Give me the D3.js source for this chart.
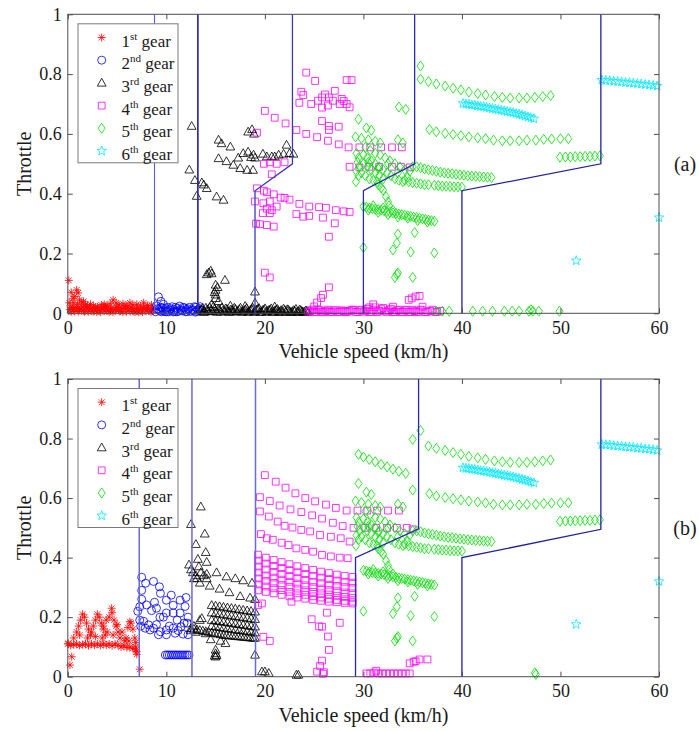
<!DOCTYPE html>
<html><head><meta charset="utf-8">
<script src="https://cdn.jsdelivr.net/npm/d3@7"></script>
<style>html,body{margin:0;padding:0;background:#fff;} svg{display:block;} svg text{font-family:"Liberation Serif","Times New Roman","DejaVu Serif",serif;}</style>
</head><body>
<svg id="chart" width="699" height="731"></svg>
<script>
// ---------- labels ----------
const xTicks = [0, 10, 20, 30, 40, 50, 60];
const yTicks = [0, 0.2, 0.4, 0.6, 0.8, 1];
const yTickLabels = ["0", "0.2", "0.4", "0.6", "0.8", "1"];
const gearOrdinals = ["1", "2", "3", "4", "5", "6"];
const gearSuffixes = ["st", "nd", "rd", "th", "th", "th"];
const panelLabels = ["(a)", "(b)"];
const xTitle = "Vehicle speed (km/h)";
const yTitle = "Throttle";

// ---------- shift boundaries (speed, throttle) ----------
const boundA = [
  [[8.8,0],[8.8,1]],
  [[13.2,0],[13.2,1]],
  [[19.0,0],[19.0,0.41],[22.8,0.5],[22.8,1]],
  [[30.0,0],[30.0,0.41],[35.2,0.5],[35.2,1]],
  [[40.0,0],[40.0,0.41],[54.1,0.5],[54.1,1]]
];
const boundB = [
  [[7.25,0],[7.25,1]],
  [[12.6,0],[12.6,1]],
  [[19.05,0],[19.05,1]],
  [[29.2,0],[29.2,0.4],[35.6,0.497],[35.6,1]],
  [[40.0,0],[40.0,0.4],[54.1,0.495],[54.1,1]]
];

// ---------- panel (a) ----------
const gear1A = [
[0.2,0.012],[0.45,0.02],[0.7,0.006],[0.95,0.016],[1.2,0.01],[1.45,0.022],[1.7,0.005],[1.95,0.014],[2.2,0.02],[2.45,0.008],[2.7,0.016],[2.95,0.004],[3.2,0.012],[3.45,0.02],[3.7,0.007],[3.95,0.015],[4.2,0.005],[4.45,0.018],[4.7,0.01],[4.95,0.02],[5.2,0.006],[5.45,0.014],[5.7,0.02],[5.95,0.005],[6.2,0.012],[6.45,0.018],[6.7,0.006],[6.95,0.015],[7.2,0.004],[7.45,0.012],[7.7,0.02],[7.95,0.007],[8.2,0.014],[8.45,0.004],[8.7,0.012],
[0.33,0.005],[0.58,0.012],[0.83,0.02],[1.08,0.006],[1.33,0.015],[1.58,0.008],[1.83,0.02],[2.08,0.005],[2.33,0.013],[2.58,0.006],[2.83,0.02],[3.08,0.01],[3.33,0.004],[3.58,0.015],[3.83,0.022],[4.08,0.008],[4.33,0.014],[4.58,0.004],[4.83,0.012],[5.08,0.02],[5.33,0.008],[5.58,0.004],[5.83,0.016],[6.08,0.022],[6.33,0.006],[6.58,0.012],[6.83,0.004],[7.08,0.018],[7.33,0.01],[7.58,0.004],[7.83,0.014],[8.08,0.02],[8.33,0.008],[8.58,0.016],
[0.1,0.11],[0.15,0.035],[0.35,0.07],[0.5,0.05],[0.7,0.056],[0.9,0.078],[1.05,0.068],[1.2,0.045],[1.4,0.035],[1.6,0.04],[1.8,0.03],[2.0,0.025],[2.3,0.03],[2.6,0.025],[3.0,0.022],[3.4,0.028],[3.7,0.03],[4.0,0.024],[4.3,0.032],[4.6,0.045],[4.9,0.035],[5.2,0.028],[5.6,0.032],[5.9,0.026],[6.3,0.035],[6.6,0.028],[7.0,0.03],[7.4,0.025],[7.7,0.035],[8.1,0.026],[8.5,0.028],[1.0,0.03],[0.6,0.035],[0.3,0.02]
];
const gear2A = [
[9.2,0.055],[9.45,0.04],[9.0,0.025],[9.7,0.03],[8.9,0.005],[9.1,0.015],[9.35,0.008],[9.6,0.018],[9.85,0.006],[10.1,0.02],[10.35,0.01],[10.6,0.022],[10.85,0.006],[11.1,0.016],[11.35,0.024],[11.6,0.008],[11.85,0.018],[12.1,0.006],[12.35,0.02],[12.6,0.01],[12.85,0.022],[13.1,0.006],[13.35,0.016],[13.6,0.01],[10.0,0.005],[11.0,0.005],[12.0,0.012],[13.0,0.02],[10.8,0.012],[9.5,0.005],
[9.2,0.012],[9.45,0.02],[9.7,0.01],[9.95,0.016],[10.2,0.005],[10.45,0.015],[10.7,0.005],[10.95,0.02],[11.2,0.006],[11.45,0.012],[11.7,0.02],[11.95,0.005],[12.2,0.015],[12.45,0.006],[12.7,0.012],[12.95,0.004],[13.2,0.012],[13.45,0.022]
];
const gear3A = [
[13.4,0.008],[13.65,0.016],[13.9,0.005],[14.15,0.012],[14.4,0.02],[14.65,0.007],[14.9,0.015],[15.15,0.004],[15.4,0.012],[15.65,0.019],[15.9,0.006],[16.15,0.014],[16.4,0.004],[16.65,0.011],[16.9,0.018],[17.15,0.006],[17.4,0.013],[17.65,0.004],[17.9,0.01],[18.15,0.017],[18.4,0.006],[18.65,0.013],[18.9,0.004],[19.15,0.011],[19.4,0.017],[19.65,0.005],[19.9,0.012],[20.15,0.004],[20.4,0.01],[20.65,0.016],[20.9,0.005],[21.15,0.012],[21.4,0.004],[21.65,0.01],[21.9,0.015],[22.15,0.005],[22.4,0.011],[22.65,0.004],[22.9,0.01],[23.15,0.014],[23.4,0.005],[23.65,0.01],[23.9,0.004],[24.15,0.009],[24.4,0.004],
[13.52,0.012],[13.77,0.004],[14.02,0.018],[14.27,0.006],[14.52,0.012],[14.77,0.022],[15.02,0.008],[15.27,0.014],[15.52,0.005],[15.77,0.01],[16.02,0.016],[16.27,0.006],[16.52,0.012],[16.77,0.005],[17.02,0.014],[17.27,0.008],[17.52,0.018],[17.77,0.006],[18.02,0.012],[18.27,0.004],[18.52,0.01],[18.77,0.018],[19.02,0.007],[19.27,0.014],[19.52,0.004],[19.77,0.01],[20.02,0.016],[20.27,0.007],[20.52,0.012],[20.77,0.004],[21.02,0.009],[21.27,0.014],[21.52,0.006],[21.77,0.004],[22.02,0.01],[22.27,0.013],[22.52,0.006],[22.77,0.004],[23.02,0.008],[23.27,0.004],[23.52,0.012],[23.77,0.006],[24.02,0.004],[24.27,0.008],
[14.6,0.03],[15.3,0.04],[19.0,0.035],[16.5,0.025],[18.0,0.024],[21.0,0.022],
[14.1,0.13],[14.3,0.136],[14.5,0.142],[14.6,0.133],[15.0,0.095],[15.0,0.078],[15.0,0.062],[15.0,0.05],[15.2,0.087],[14.9,0.07],[15.95,0.111],[19.0,0.072],
[12.57,0.626],[12.33,0.48],[12.9,0.445],[13.08,0.392],[13.6,0.437],[13.8,0.43],[14.1,0.418],[15.1,0.39],[15.8,0.379],
[15.3,0.58],[15.6,0.568],[16.5,0.557],[15.3,0.518],[16.1,0.508],[16.8,0.496],[17.3,0.52],[17.5,0.485],[18.2,0.479],[18.8,0.479],[17.8,0.535],
[18.3,0.607],[18.7,0.615],[18.9,0.6],[18.3,0.54],[18.85,0.53],[19.0,0.52],[18.6,0.522],[19.8,0.533],[20.2,0.524],[20.7,0.524],[21.0,0.524],[21.4,0.53],[21.9,0.533],[22.2,0.563],[22.5,0.535],[22.9,0.533]
];
const gear4A = [
[24.2,0.805],[25.1,0.777],[28.3,0.78],[28.8,0.78],[23.7,0.741],[23.9,0.73],[23.5,0.704],[24.7,0.7],[25.4,0.711],[25.8,0.722],[26.1,0.732],[26.5,0.722],[27.1,0.744],[26.9,0.711],[27.6,0.7],[28.3,0.7],[27.8,0.717],[25.8,0.688],[28.6,0.689],[28.0,0.71],[26.4,0.695],
[20.0,0.677],[21.0,0.654],[22.1,0.635],[23.2,0.613],[24.2,0.6],[25.3,0.589],[25.8,0.643],[26.5,0.627],[26.5,0.613],[26.4,0.577],[27.5,0.624],[27.5,0.565],[28.5,0.555],[29.6,0.555],[30.7,0.555],[31.8,0.555],[32.9,0.555],[33.9,0.555],[19.2,0.604],
[19.9,0.5],[20.5,0.505],[21.2,0.5],[22.0,0.505],[20.7,0.465],[28.6,0.49],[29.6,0.488],[30.6,0.49],[31.6,0.49],[32.9,0.49],[33.8,0.49],[34.7,0.488],
[19.2,0.418],[19.9,0.41],[20.2,0.405],[20.9,0.398],[21.6,0.387],[22.0,0.386],[22.5,0.38],[19.0,0.374],[19.85,0.368],[20.5,0.374],[21.2,0.357],[20.2,0.35],[20.5,0.335],[19.8,0.335],[20.7,0.345],
[23.5,0.366],[24.5,0.357],[25.5,0.355],[26.2,0.353],[27.2,0.345],[28.0,0.341],[28.6,0.339],[23.2,0.332],[23.9,0.323],[24.5,0.326],[25.9,0.32],[27.1,0.301],
[19.1,0.3],[19.5,0.298],[20.2,0.295],[20.9,0.29],[26.5,0.256],[20.0,0.136],[20.5,0.12],
[26.5,0.087],[25.9,0.062],[25.7,0.051],[25.3,0.036],[25.0,0.023],[34.6,0.045],[34.9,0.05],[35.3,0.056],[35.7,0.058],
[24.4,0.005],[24.8,0.012],[25.2,0.005],[25.6,0.01],[26.0,0.005],[26.4,0.012],[26.8,0.005],[27.2,0.01],[27.6,0.005],[28.0,0.008],[28.4,0.005],[28.8,0.012],[29.2,0.005],[29.6,0.01],[30.0,0.005],[30.4,0.015],[30.8,0.005],[31.2,0.02],[31.6,0.008],[32.0,0.018],[32.4,0.005],[32.8,0.015],[33.2,0.005],[33.6,0.012],[34.0,0.005],[34.4,0.012],[34.8,0.005],[35.2,0.008],[35.6,0.005],[36.0,0.01],[36.5,0.005],[37.0,0.012],[37.5,0.005],[31.0,0.03],[30.6,0.02],[33.0,0.022],[36.0,0.022],
[24.6,0.008],[25.0,0.004],[25.4,0.012],[25.8,0.004],[26.2,0.008],[26.6,0.004],[27.0,0.01],[27.4,0.004],[27.8,0.01],[28.2,0.004],[28.6,0.008],[29.0,0.012],[29.4,0.004],[29.8,0.012],[30.2,0.008],[30.6,0.004],[31.0,0.012],[31.4,0.004],[31.8,0.014],[32.2,0.006],[32.6,0.01],[33.0,0.004],[33.4,0.01],[33.8,0.004],[34.2,0.01],[34.6,0.004],[35.0,0.012],[35.4,0.004],[35.8,0.012],[36.3,0.004],[36.8,0.008],[37.3,0.004],[37.8,0.008]
];

// ---------- 5th and 6th gear points common to both panels ----------
const gear5Common = [
[35.8,0.827],
[36.6,0.775],[37.4,0.767],[38.3,0.76],[39.1,0.753],[39.9,0.747],[40.7,0.74],[41.6,0.735],[42.4,0.73],[43.3,0.725],[44.1,0.722],[44.9,0.72],[45.8,0.72],[46.6,0.72],[47.4,0.722],[48.2,0.725],[49.0,0.728],
[36.7,0.615],[37.4,0.607],[38.3,0.602],[39.1,0.598],[39.9,0.594],[40.7,0.59],[41.6,0.587],[42.4,0.584],[43.2,0.579],[44.1,0.577],[44.9,0.577],[45.8,0.577],[46.6,0.579],[47.5,0.579],[48.3,0.582],[49.1,0.583],[50.0,0.584],[50.8,0.584],
[49.95,0.522],[50.5,0.523],[51.0,0.523],[51.5,0.524],[52.0,0.524],[52.5,0.525],[53.0,0.525],[53.5,0.526],[54.0,0.527],
[35.0,0.49],[35.4,0.49],[35.8,0.487],[36.2,0.483],[36.6,0.48],[37.0,0.478],[37.4,0.475],[37.8,0.472],[38.2,0.47],[38.6,0.468],[39.0,0.467],[39.4,0.465],[39.8,0.463],[40.2,0.462],[40.6,0.46],[41.0,0.459],[41.4,0.458],[41.8,0.457],[42.2,0.456],[42.6,0.455],[43.0,0.454],
[34.2,0.445],[34.6,0.44],[35.0,0.437],[35.4,0.435],[35.8,0.433],[36.2,0.43],[36.6,0.43],[37.2,0.428],[37.6,0.427],[38.0,0.425],[38.4,0.425],[38.8,0.424],[39.2,0.423],[39.6,0.423],[40.0,0.422],
[29.2,0.59],[29.8,0.585],[30.5,0.58],[31.2,0.575],[31.7,0.57],[33.5,0.58],[34.0,0.57],[29.5,0.649],[30.3,0.62],[30.8,0.612],
[29.3,0.535],[29.5,0.52],[29.4,0.505],[29.6,0.49],[29.3,0.475],[29.5,0.46],[29.25,0.44],
[30.0,0.53],[30.4,0.52],[30.8,0.51],[31.2,0.5],[31.6,0.49],[32.0,0.48],[32.4,0.47],[32.8,0.46],[33.2,0.45],[33.6,0.445],[34.0,0.44],
[30.0,0.5],[30.4,0.49],[30.8,0.48],[31.2,0.47],[31.6,0.46],[32.0,0.45],
[29.8,0.47],[30.2,0.46],[30.6,0.45],[31.0,0.445],[31.4,0.44],
[30.2,0.555],[30.7,0.545],[31.2,0.535],[31.7,0.53],[32.2,0.52],[32.7,0.51],[33.2,0.5],[33.7,0.49],[34.2,0.48],[34.7,0.475],
[30.5,0.505],[31.5,0.485],[32.5,0.5],[33.5,0.47],[34.5,0.455],
[31.5,0.43],[32.0,0.412],[32.3,0.39],[32.5,0.373],[31.8,0.42],[32.6,0.36],
[30.0,0.357],[30.3,0.355],[30.6,0.352],[30.9,0.35],[31.2,0.348],[31.5,0.347],[31.8,0.345],[32.1,0.343],[32.4,0.34],[32.7,0.338],[33.0,0.336],[33.3,0.334],[33.6,0.332],[33.9,0.33],[34.2,0.328],[34.5,0.326],[34.8,0.324],[35.1,0.322],[35.4,0.32],[35.7,0.318],[36.0,0.316],[36.3,0.314],[36.6,0.312],[36.9,0.31],[37.2,0.308],
[30.5,0.345],[31.5,0.338],[32.5,0.33],[33.5,0.322],[34.5,0.318],[35.5,0.31],[36.5,0.305],[31.0,0.36],[32.0,0.352],[33.0,0.345],
[30.0,0.22],[33.0,0.212],[33.4,0.235],[33.5,0.265],[35.2,0.27],[34.8,0.205],[37.2,0.202],[33.5,0.135],[33.2,0.12],[35.0,0.12],[33.4,0.13]
];
const gear5OnlyA = [
[35.8,0.783],[33.6,0.69],[34.3,0.682],
[37.4,0.007],[38.0,0.007],[38.7,0.007],[41.1,0.007],[42.1,0.007],[43.1,0.007],[44.3,0.007],[45.1,0.007],[45.8,0.007],[46.8,0.007],[47.0,0.012],[47.2,0.007],[47.8,0.007],[49.9,0.007]
];
const gear5OnlyB = [
[35.0,0.797],[35.0,0.627],
[29.5,0.747],[30.0,0.738],[30.6,0.73],[31.2,0.722],[31.8,0.713],[32.4,0.705],[33.0,0.697],[33.6,0.69],[34.3,0.683],
[47.4,0.013],[47.5,0.008]
];
const gear6Common = [
[54.2,0.78],[54.6,0.779],[55.0,0.778],[55.4,0.776],[55.8,0.775],[56.2,0.774],[56.6,0.772],[57.0,0.771],[57.4,0.77],[57.8,0.768],[58.2,0.767],[58.6,0.765],[59.0,0.764],[59.4,0.762],[59.8,0.76],
[40.1,0.702],[40.4,0.7],[40.7,0.699],[41.0,0.697],[41.3,0.696],[41.6,0.694],[41.9,0.692],[42.2,0.691],[42.5,0.689],[42.8,0.687],[43.1,0.685],[43.4,0.683],[43.7,0.681],[44.0,0.679],[44.3,0.677],[44.6,0.675],[44.9,0.673],[45.2,0.671],[45.5,0.668],[45.8,0.666],[46.1,0.663],[46.4,0.66],[46.7,0.657],[47.0,0.654],[47.3,0.651],
[60.0,0.32],[51.6,0.176]
];

// ---------- panel (b) ----------
const gear1B = [
[0.0,0.11],[0.3,0.105],[0.6,0.108],[0.9,0.11],[1.2,0.105],[1.5,0.108],[1.8,0.11],[2.1,0.104],[2.4,0.11],[2.7,0.106],[3.0,0.11],[3.3,0.105],[3.6,0.11],[3.9,0.106],[4.2,0.11],[4.5,0.104],[4.8,0.11],[5.1,0.106],[5.4,0.1],[5.7,0.104],[6.0,0.098],[6.3,0.1],[6.6,0.095],[6.9,0.09],[7.0,0.085],
[0.6,0.13],[0.9,0.15],[1.1,0.17],[1.3,0.19],[1.5,0.21],[1.7,0.2],[1.9,0.18],[2.1,0.16],[2.3,0.14],[1.2,0.14],[2.0,0.13],
[2.4,0.15],[2.6,0.17],[2.8,0.19],[3.0,0.21],[3.2,0.2],[3.4,0.18],[3.6,0.16],[3.8,0.14],[2.8,0.135],[3.5,0.13],
[3.6,0.17],[3.9,0.19],[4.2,0.2],[4.45,0.23],[4.5,0.215],[4.7,0.19],[4.9,0.17],[5.1,0.15],[5.3,0.13],[4.0,0.15],[4.6,0.14],
[5.0,0.175],[5.5,0.15],[5.9,0.13],[6.1,0.165],[6.3,0.185],[6.4,0.18],[6.6,0.16],[6.8,0.13],[6.9,0.115],[5.8,0.12],[6.2,0.12],
[0.22,0.039],[0.4,0.067],[0.05,0.112],[7.3,0.025],[6.9,0.1],[7.0,0.075]
];
const gear2B = [
[7.5,0.334],[7.9,0.314],[8.7,0.32],[9.3,0.302],[9.4,0.28],[7.5,0.29],[7.5,0.26],[7.3,0.235],[7.1,0.22],[8.0,0.241],[8.5,0.222],[9.35,0.2],[8.8,0.25],[9.0,0.23],[10.5,0.274],[10.0,0.257],[10.7,0.24],[11.4,0.257],[12.0,0.266],[11.9,0.236],[10.7,0.214],[11.4,0.214],[10.0,0.214],[9.7,0.2],[11.1,0.19],[12.2,0.2],[11.8,0.18],
[7.7,0.186],[8.2,0.174],[8.7,0.163],[9.4,0.151],[10.0,0.157],[10.7,0.163],[11.5,0.168],[12.1,0.18],[8.35,0.157],[9.2,0.141],[10.0,0.141],[10.9,0.146],[11.7,0.143],[12.2,0.141],[7.85,0.163],[7.4,0.17],[7.3,0.19],[10.3,0.17],[9.0,0.175],[11.2,0.155],
[9.9,0.073],[10.1,0.073],[10.3,0.073],[10.5,0.073],[10.7,0.073],[10.9,0.073],[11.1,0.073],[11.3,0.073],[11.5,0.073],[11.7,0.073],[11.9,0.073],[12.1,0.073],[12.3,0.073]
];
const gear3B = [
[14.6,0.24],[15.0,0.238],[15.4,0.236],[15.8,0.234],[16.2,0.232],[16.6,0.23],[17.0,0.228],[17.4,0.226],[17.8,0.224],[18.2,0.222],[18.6,0.22],[19.0,0.218],
[14.6,0.215],[15.0,0.213],[15.4,0.211],[15.8,0.209],[16.2,0.207],[16.6,0.205],[17.0,0.203],[17.4,0.201],[17.8,0.199],[18.2,0.197],[18.6,0.195],[19.0,0.193],
[14.6,0.19],[15.0,0.188],[15.4,0.186],[15.8,0.184],[16.2,0.182],[16.6,0.18],[17.0,0.178],[17.4,0.176],[17.8,0.174],[18.2,0.172],[18.6,0.17],[19.0,0.168],
[14.6,0.17],[15.0,0.168],[15.4,0.166],[15.8,0.164],[16.2,0.162],[16.6,0.16],[17.0,0.158],[17.4,0.156],[17.8,0.154],[18.2,0.152],[18.6,0.15],[19.0,0.148],
[12.5,0.162],[12.8,0.16],[13.1,0.158],[13.4,0.156],[13.7,0.154],[14.0,0.152],[14.3,0.15],[14.6,0.148],[14.9,0.146],[15.2,0.144],[15.5,0.142],[15.8,0.14],[16.1,0.139],[16.4,0.138],[16.7,0.137],[17.0,0.136],[17.3,0.135],[17.6,0.134],[17.9,0.133],[18.2,0.132],[18.5,0.131],[18.8,0.13],[19.0,0.13],
[12.5,0.155],[13.0,0.15],[14.0,0.145],[12.8,0.17],
[13.5,0.571],[12.5,0.512],[13.0,0.445],[13.9,0.48],[14.0,0.418],[13.2,0.395],[14.1,0.385],[12.3,0.376],[12.5,0.36],[12.7,0.35],[13.3,0.37],[13.5,0.35],[14.1,0.345],[13.1,0.33],[14.1,0.33],[13.0,0.34],[12.8,0.33],[13.8,0.34],
[15.1,0.35],[16.1,0.336],[17.0,0.33],[17.8,0.323],[18.7,0.315],[13.4,0.315],[14.4,0.305],[15.4,0.295],[16.4,0.283],[17.5,0.27],[18.5,0.265],[19.0,0.26],
[13.6,0.196],[13.4,0.19],[14.5,0.125],[15.5,0.12],[16.0,0.112],
[15.0,0.067],[15.0,0.078],[14.9,0.07],[15.1,0.072],[15.0,0.09],[19.0,0.073],
[19.7,0.017],[20.0,0.017],[20.4,0.012],[23.2,0.006],[23.4,0.006]
];
const gear4B = [
[20.0,0.677],[21.1,0.655],[22.1,0.635],[23.1,0.616],[24.1,0.6],[25.1,0.589],[26.2,0.578],[27.2,0.567],[28.3,0.558],[29.4,0.558],[30.4,0.558],[31.4,0.558],[32.5,0.558],[33.6,0.558],
[19.5,0.603],[20.5,0.59],[21.5,0.575],[22.6,0.562],[23.7,0.553],[24.8,0.542],[25.8,0.531],[26.9,0.517],[27.9,0.506],[29.0,0.5],[30.2,0.5],[31.3,0.5],[32.4,0.5],[33.4,0.5],[34.4,0.5],[35.0,0.495],
[19.5,0.555],[20.4,0.538],[21.3,0.521],[22.0,0.507],[22.8,0.501],[23.7,0.493],[24.6,0.488],[25.6,0.476],[26.7,0.47],[27.7,0.465],[28.6,0.454],
[19.6,0.479],[20.2,0.465],[20.8,0.46],[21.7,0.45],[22.4,0.442],[23.2,0.431],[24.1,0.426],[24.9,0.42],[25.8,0.409],[26.7,0.404],[27.6,0.4],[28.4,0.398],
[19.3,0.41],[20.1,0.4],[20.9,0.392],[21.7,0.385],[22.5,0.378],[23.3,0.371],[24.1,0.365],[24.9,0.359],[25.7,0.353],[26.5,0.348],[27.3,0.343],[28.1,0.339],[28.9,0.335],
[19.3,0.39],[20.1,0.38],[20.9,0.372],[21.7,0.365],[22.5,0.358],[23.3,0.351],[24.1,0.345],[24.9,0.339],[25.7,0.333],[26.5,0.328],[27.3,0.323],[28.1,0.319],[28.9,0.316],
[19.3,0.37],[20.1,0.36],[20.9,0.352],[21.7,0.345],[22.5,0.338],[23.3,0.331],[24.1,0.325],[24.9,0.319],[25.7,0.314],[26.5,0.309],[27.3,0.305],[28.1,0.301],[28.9,0.298],
[19.3,0.35],[20.1,0.34],[20.9,0.333],[21.7,0.326],[22.5,0.319],[23.3,0.313],[24.1,0.307],[24.9,0.301],[25.7,0.296],[26.5,0.291],[27.3,0.287],[28.1,0.283],[28.9,0.28],
[19.3,0.33],[20.1,0.322],[20.9,0.315],[21.7,0.308],[22.5,0.302],[23.3,0.296],[24.1,0.29],[24.9,0.285],[25.7,0.28],[26.5,0.276],[27.3,0.272],[28.1,0.268],[28.9,0.265],
[19.3,0.31],[20.1,0.303],[20.9,0.297],[21.7,0.291],[22.5,0.285],[23.3,0.28],[24.1,0.275],[24.9,0.27],[25.7,0.266],[26.5,0.262],[27.3,0.258],[28.1,0.255],[28.9,0.252],
[19.3,0.29],[20.1,0.285],[20.9,0.28],[21.7,0.275],[22.5,0.27],[23.3,0.266],[24.1,0.262],[24.9,0.258],[25.7,0.255],[26.5,0.252],[27.3,0.25],[28.1,0.248],[28.9,0.246],
[19.3,0.24],[19.7,0.246],[19.85,0.134],[20.5,0.12],[22.7,0.252],[24.75,0.193],[25.5,0.169],[25.8,0.168],[26.3,0.215],[26.4,0.135],[26.5,0.09],[27.6,0.181],[25.8,0.054],[25.6,0.036],[25.3,0.017],[25.9,0.01],[26.0,0.015],
[30.3,0.011],[30.7,0.011],[31.1,0.014],[31.5,0.011],[31.9,0.011],[32.3,0.011],[32.7,0.011],[33.1,0.011],[33.5,0.011],[33.9,0.011],[34.3,0.011],[34.7,0.011],[31.3,0.02],[35.1,0.05],[35.7,0.058],[36.5,0.058],[34.7,0.045],[35.3,0.052]
];

const panelData = [
  [gear1A, gear2A, gear3A, gear4A, gear5Common.concat(gear5OnlyA), gear6Common],
  [gear1B, gear2B, gear3B, gear4B, gear5Common.concat(gear5OnlyB), gear6Common]
];
const panelBounds = [boundA, boundB];

// ---------- styles ----------
const gearColors = ["#ff0000", "#0000ff", "#000000", "#ff00ff", "#00e000", "#00e8ff"];
const boundStylesA = [{c:"#5a5ad2",w:1.1},{c:"#2c2caa",w:1.7},{c:"#3a3ab8",w:1.3},{c:"#2c2caa",w:1.3},{c:"#2020a0",w:1.3}];
const boundStylesB = [{c:"#6a6ad4",w:1.5},{c:"#6a6ad4",w:1.5},{c:"#6a6ad4",w:1.5},{c:"#2828a8",w:1.3},{c:"#2020a0",w:1.3}];
const boundStyles = [boundStylesA, boundStylesB];

function pentagram(r) {
  const pts = [];
  for (let i = 0; i < 10; i++) {
    const a = -Math.PI / 2 + i * Math.PI / 5;
    const rr = i % 2 === 0 ? r : r * 0.42;
    pts.push([rr * Math.cos(a), rr * Math.sin(a)]);
  }
  return "M" + pts.map(p => p[0].toFixed(2) + "," + p[1].toFixed(2)).join("L") + "Z";
}
const markerPaths = [
  "M-4,0H4M0,-4V4M-2.9,-2.9L2.9,2.9M-2.9,2.9L2.9,-2.9",
  "M4,0A4,4 0 1,1 -4,0A4,4 0 1,1 4,0Z",
  "M0,-4.6L4.4,3.2L-4.4,3.2Z",
  "M-3.4,-3.4H3.4V3.4H-3.4Z",
  "M0,-5L3.5,0L0,5L-3.5,0Z",
  pentagram(5)
];

// ---------- drawing ----------
const FONT = "Liberation Serif, Times New Roman, DejaVu Serif, serif";
const svg = d3.select("#chart");
const x = d3.scaleLinear().domain([0, 60]).range([67.8, 659]);
const panels = [{top: 14.3, bottom: 313.3}, {top: 379, bottom: 676.7}];

panels.forEach((p, pi) => {
  const y = d3.scaleLinear().domain([0, 1]).range([p.bottom, p.top]);
  const g = svg.append("g");

  panelData[pi].forEach((pts, gi) => {
    g.append("g").selectAll("path").data(pts).enter().append("path")
      .attr("d", markerPaths[gi])
      .attr("transform", d => `translate(${x(d[0])},${y(d[1])})`)
      .attr("fill", "none")
      .attr("stroke", gearColors[gi])
      .attr("stroke-width", 0.8);
  });

  const line = d3.line().x(d => x(d[0])).y(d => y(d[1]));
  panelBounds[pi].forEach((b, bi) => {
    g.append("path").attr("d", line(b)).attr("fill", "none")
      .attr("stroke", boundStyles[pi][bi].c).attr("stroke-width", boundStyles[pi][bi].w);
  });

  g.append("rect").attr("x", x(0)).attr("y", p.top).attr("width", x(60) - x(0)).attr("height", p.bottom - p.top)
    .attr("fill", "none").attr("stroke", "#4d4d4d").attr("stroke-width", 1);

  const xb = g.append("g").attr("transform", `translate(0,${p.bottom})`)
    .call(d3.axisBottom(x).tickValues(xTicks).tickSize(-5).tickPadding(8).tickFormat(d3.format("d")));
  const xt = g.append("g").attr("transform", `translate(0,${p.top})`)
    .call(d3.axisTop(x).tickValues(xTicks).tickSize(-5).tickFormat(""));
  const yl = g.append("g").attr("transform", `translate(${x(0)},0)`)
    .call(d3.axisLeft(y).tickValues(yTicks).tickSize(-5).tickPadding(6).tickFormat((d, i) => yTickLabels[i]));
  const yr = g.append("g").attr("transform", `translate(${x(60)},0)`)
    .call(d3.axisRight(y).tickValues(yTicks).tickSize(-5).tickFormat(""));
  [xb, xt, yl, yr].forEach(a => {
    a.attr("font-family", null);
    a.select(".domain").remove();
    a.selectAll(".tick line").attr("stroke", "#4d4d4d");
    a.selectAll(".tick text").style("font-family", FONT).attr("font-size", 18).attr("fill", "#1a1a1a");
  });

  g.append("text").attr("x", (x(0) + x(60)) / 2).attr("y", p.bottom + 45)
    .attr("text-anchor", "middle").style("font-family", FONT).attr("font-size", 20).attr("fill", "#1a1a1a").text(xTitle);
  g.append("text").attr("transform", `translate(31,${(p.top + p.bottom) / 2}) rotate(-90)`)
    .attr("text-anchor", "middle").style("font-family", FONT).attr("font-size", 20).attr("fill", "#1a1a1a").text(yTitle);
  g.append("text").attr("x", 685).attr("y", (p.top + p.bottom) / 2 + 7)
    .attr("text-anchor", "middle").style("font-family", FONT).attr("font-size", 20).attr("fill", "#1a1a1a").text(panelLabels[pi]);

  const lx = 78, ly = p.top + 9.5;
  const lg = g.append("g");
  lg.append("rect").attr("x", lx).attr("y", ly).attr("width", 100).attr("height", 139)
    .attr("fill", "#fff").attr("stroke", "#7a7a7a").attr("stroke-width", 1);
  gearOrdinals.forEach((o, i) => {
    const my = ly + 13.7 + i * 22.7;
    lg.append("path").attr("d", markerPaths[i]).attr("transform", `translate(${lx + 23.7},${my})`)
      .attr("fill", "none").attr("stroke", gearColors[i]).attr("stroke-width", 0.8);
    const t = lg.append("text").attr("x", lx + 43.5).attr("y", my + 9)
      .style("font-family", FONT).attr("font-size", 17).attr("fill", "#1a1a1a");
    t.append("tspan").text(o);
    t.append("tspan").attr("dy", -7).attr("font-size", 11).text(gearSuffixes[i]);
    t.append("tspan").attr("dy", 7).text(" gear");
  });
});
</script>
</body></html>
